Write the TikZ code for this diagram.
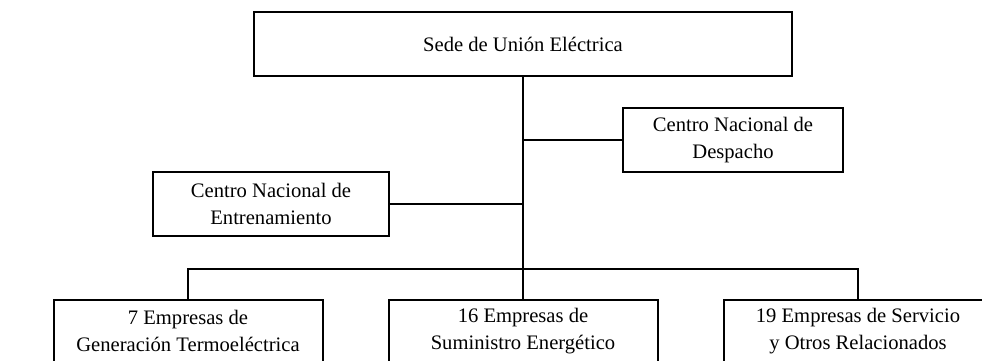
\documentclass[tikz,border=0pt]{standalone}
\usepackage{fontspec}
\setmainfont{Liberation Serif}

\begin{document}
\begin{tikzpicture}[x=0.5pt,y=-0.5pt,line width=1pt,
  box/.style={shape=rectangle,draw,align=center,inner sep=0pt,
    font=\fontsize{10.3}{13.5}\selectfont,minimum height=32pt}]
\clip (0,0) rectangle (982,360);
\node (sede)  at (523,44)  [box,minimum width=269pt] {Sede de Unión Eléctrica};
\node (desp)  at (733,140) [box,minimum width=110pt] {Centro Nacional de\\Despacho};
\node (entr)  at (271,204) [box,minimum width=118pt] {Centro Nacional de\\Entrenamiento};
\node (gen)   at (188,331) [box,minimum width=134.5pt,minimum height=31pt] {7 Empresas de\\Generación Termoeléctrica};
\node (sum)   at (523,331) [box,minimum width=134.5pt,minimum height=31pt] {16 Empresas de\\Suministro Energético};
\node (serv)  at (858,331) [box,minimum width=134.5pt,minimum height=31pt] {19 Empresas de Servicio\\y Otros Relacionados};
\coordinate (bus) at (523,269);
\draw (sede.south) -- (sum.north);
\draw (desp.west) -- (desp.west -| sede.south);
\draw (entr.east) -- (entr.east -| sede.south);
\draw (gen.north) |- (bus) -| (serv.north);
\end{tikzpicture}
\end{document}
